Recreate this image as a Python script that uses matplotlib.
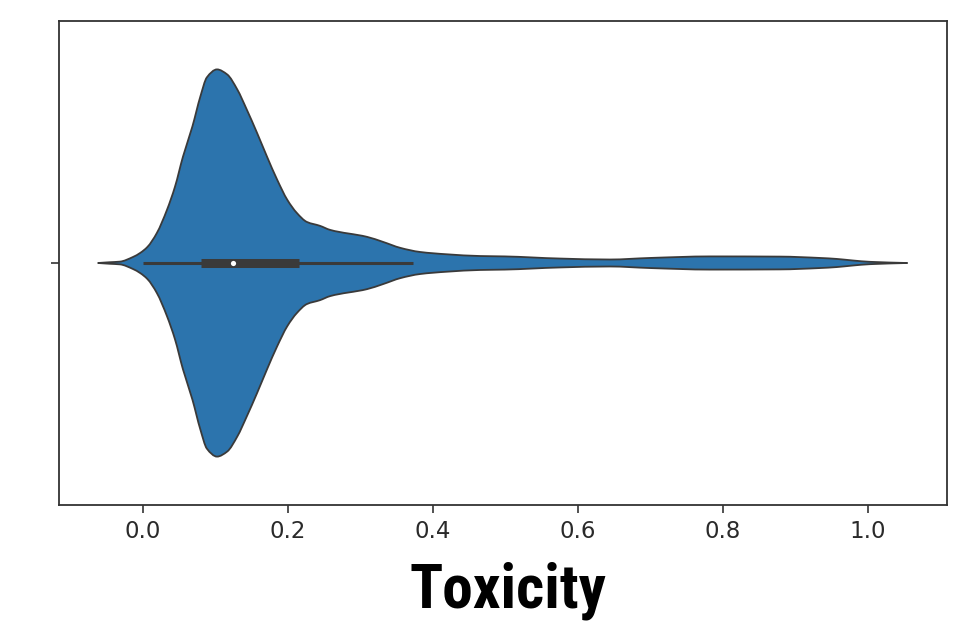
import matplotlib
matplotlib.use("Agg")
import matplotlib.pyplot as plt
import matplotlib.font_manager as fm
from matplotlib.path import Path
from matplotlib.patches import PathPatch
import numpy as np

# Toxicity values (x) and relative KDE density (peak = 1)
tox_grid = [-0.062, -0.046, -0.032, -0.014, -0.004, 0.006, 0.019, 0.033, 0.044,
            0.055, 0.068, 0.079, 0.088, 0.102, 0.116, 0.130, 0.143, 0.157, 0.171,
            0.185, 0.199, 0.212, 0.226, 0.244, 0.258, 0.309, 0.331, 0.355, 0.382,
            0.419, 0.465, 0.499, 0.575, 0.644, 0.699, 0.782, 0.879, 0.934, 0.957,
            0.979, 1.003, 1.054]
density = [0.0, 0.004, 0.007, 0.031, 0.052, 0.083, 0.155, 0.275, 0.394,
           0.549, 0.705, 0.860, 0.959, 1.0, 0.974, 0.896, 0.793, 0.674, 0.549,
           0.430, 0.326, 0.259, 0.212, 0.192, 0.171, 0.135, 0.109, 0.078, 0.057,
           0.045, 0.036, 0.034, 0.023, 0.018, 0.026, 0.034, 0.033, 0.026, 0.021,
           0.013, 0.006, 0.0]

# Box statistics
whisker_low, q1, median, q3, whisker_high = 0.0, 0.080, 0.124, 0.215, 0.372
xtick_values = [0.0, 0.2, 0.4, 0.6, 0.8, 1.0]
xtick_labels = ["0.0", "0.2", "0.4", "0.6", "0.8", "1.0"]
xlabel = "Toxicity"

fill_color = "#2c74ad"
edge_color = "#3a3a3a"

plt.rcParams["font.family"] = ["DejaVu Sans"]


def pick_condensed_bold():
    pref = ["Liberation Sans Narrow", "Roboto Condensed", "Open Sans Condensed",
            "Noto Sans", "Roboto", "Open Sans", "DejaVu Sans"]
    best = None
    for f in fm.fontManager.ttflist:
        st = f.stretch
        if isinstance(st, str):
            st = fm.stretch_dict.get(st, 500)
        narrow = ("Narrow" in f.name or "Condensed" in f.name
                  or "Narrow" in f.fname or "Condensed" in f.fname or st <= 400)
        if not narrow or f.style != "normal":
            continue
        w = f.weight
        if isinstance(w, str):
            w = fm.weight_dict.get(w, 400)
        if w < 600:
            continue
        rank = len(pref)
        for i, p in enumerate(pref):
            if f.name.startswith(p):
                rank = i
                break
        key = (rank, abs(w - 700), abs(st - 300))
        if best is None or key < best[0]:
            best = (key, f.fname)
    return best[1] if best else None


def monotone_slopes(xs, ys):
    h = np.diff(xs)
    d = np.diff(ys) / h
    m = np.zeros_like(ys)
    m[0], m[-1] = d[0], d[-1]
    for i in range(1, len(xs) - 1):
        if d[i - 1] * d[i] <= 0:
            m[i] = 0.0
        else:
            w1 = 2 * h[i] + h[i - 1]
            w2 = h[i] + 2 * h[i - 1]
            m[i] = (w1 + w2) / (w1 / d[i - 1] + w2 / d[i])
    return m


def smooth_segments(xs, ys, m):
    """Bezier segments (CURVE4) through the read points."""
    verts = []
    for i in range(len(xs) - 1):
        h = xs[i + 1] - xs[i]
        verts += [(xs[i] + h / 3, ys[i] + m[i] * h / 3),
                  (xs[i + 1] - h / 3, ys[i + 1] - m[i + 1] * h / 3),
                  (xs[i + 1], ys[i + 1])]
    return verts


fig = plt.figure(figsize=(9.61, 6.21), dpi=100)
ax = fig.add_axes([59 / 961, 116 / 621, 888 / 961, 484 / 621])

x = np.array(tox_grid, dtype=float)
hw = 0.4 * np.array(density, dtype=float)
m = monotone_slopes(x, hw)

upper = smooth_segments(x, hw, m)
lower = smooth_segments(x[::-1], -hw[::-1], m[::-1] * -1)
verts = [(x[0], hw[0])] + upper + lower + [(x[0], 0.0)]
codes = ([Path.MOVETO] + [Path.CURVE4] * len(upper) + [Path.CURVE4] * len(lower)
         + [Path.CLOSEPOLY])
violin = PathPatch(Path(verts, codes), facecolor=fill_color, edgecolor=edge_color,
                   linewidth=1.3, joinstyle="round", zorder=1)
ax.add_patch(violin)

ax.plot([whisker_low, whisker_high], [0, 0], color=edge_color, linewidth=2.2,
        zorder=3, solid_capstyle="butt")
ax.plot([q1, q3], [0, 0], color=edge_color, linewidth=6.5, zorder=4,
        solid_capstyle="butt")
ax.scatter([median], [0], s=14, color="white", zorder=5, linewidths=0)

ax.set_xlim(-0.116, 1.109)
ax.set_ylim(0.5, -0.5)
ax.set_xticks(xtick_values)
ax.set_xticklabels(xtick_labels, fontfamily="DejaVu Sans")
ax.set_yticks([0])
ax.set_yticklabels([""])
ax.tick_params(axis="both", length=5.5, width=1.2, color="#333333",
               labelsize=16.5, labelcolor="#2a2a2a", pad=5)
for sp in ax.spines.values():
    sp.set_linewidth(1.3)
    sp.set_color("#333333")

fpath = pick_condensed_bold()
if fpath:
    fp = fm.FontProperties(fname=fpath, size=44.5)
else:
    fp = fm.FontProperties(family=["Liberation Sans", "DejaVu Sans"],
                           weight="bold", size=44.5)
t = fig.text(508 / 961, 13 / 621, xlabel, fontproperties=fp,
             ha="center", va="baseline", color="black")
fig.canvas.draw()
w = t.get_window_extent(renderer=fig.canvas.get_renderer()).width
if w > 0:
    t.set_fontsize(44.5 * 197.0 / w)

fig.savefig("out.png", dpi=100)
